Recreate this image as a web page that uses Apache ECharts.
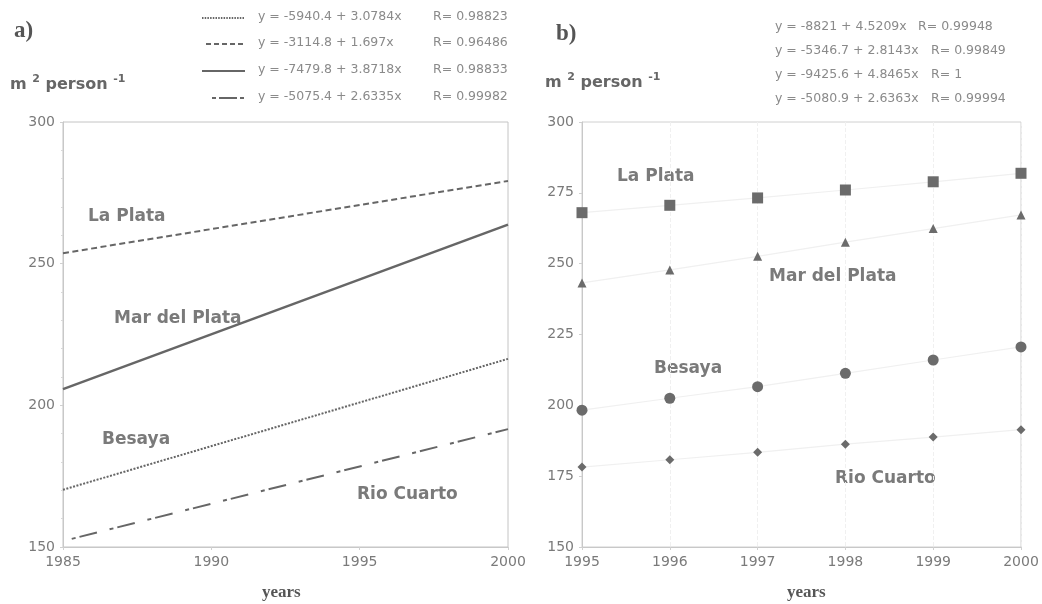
<!DOCTYPE html>
<html>
<head>
<meta charset="utf-8">
<style>
  html, body { margin: 0; padding: 0; background: #fff; }
  #chart { width: 1042px; height: 604px; }
</style>
<script src="https://cdn.jsdelivr.net/npm/echarts@6/dist/echarts.min.js"></script>
</head>
<body>
<div id="chart"></div>
<script>
// ---- Panel a) fitted lines (endpoints 1985 and 2000) ----
const yearsA = [1985, 2000];
const besayaA = [170.2, 216.4];
const laPlataA = [253.7, 279.2];
const marDelPlataA = [205.7, 263.8];
const rioCuartoA = [152.1, 191.6];
const eqA = ['y = -5940.4 + 3.0784x', 'y = -3114.8 + 1.697x', 'y = -7479.8 + 3.8718x', 'y = -5075.4 + 2.6335x'];
const rA = ['R= 0.98823', 'R= 0.96486', 'R= 0.98833', 'R= 0.99982'];

// ---- Panel b) observed values 1995-2000 ----
const yearsB = [1995, 1996, 1997, 1998, 1999, 2000];
const laPlataB = [268.0, 270.6, 273.2, 276.0, 278.9, 281.9];
const marDelPlataB = [243.2, 247.8, 252.6, 257.6, 262.4, 267.2];
const besayaB = [198.3, 202.5, 206.6, 211.3, 216.0, 220.6];
const rioCuartoB = [178.2, 180.8, 183.4, 186.3, 188.8, 191.4];
const eqB = ['y = -8821 + 4.5209x', 'y = -5346.7 + 2.8143x', 'y = -9425.6 + 4.8465x', 'y = -5080.9 + 2.6363x'];
const rB = ['R= 0.99948', 'R= 0.99849', 'R= 1', 'R= 0.99994'];

const ticksA = { min: 150, max: 300, interval: 50 };
const ticksB = { min: 150, max: 300, interval: 25 };

const pair = (xs, ys) => xs.map((x, i) => [x, ys[i]]);

const LINE = '#666666';
const MARK = '#6b6b6b';
const LBL = '#7a7a7a';
const FONT = 'DejaVu Sans';

const chart = echarts.init(document.getElementById('chart'));

function axisCommon() {
  return {
    axisLine: { show: true, lineStyle: { color: '#c8c8c8', width: 1 } },
    axisTick: { show: true, length: 3, lineStyle: { color: '#d0d0d0' } },
    axisLabel: { color: LBL, fontFamily: FONT, fontSize: 14, formatter: v => String(v) },
    splitLine: { show: false }
  };
}

const plotLabel = (x, y, t) => ({
  type: 'text', left: x, top: y,
  style: { text: t, fill: LBL, font: 'bold 17px "DejaVu Sans"' }
});

const unitLabel = (x, y) => ({
  type: 'text', left: x, top: y,
  style: {
    text: '{b|m }{s|2}{b| person }{s|-1}',
    rich: {
      b: { font: 'bold 16px "DejaVu Sans"', fill: '#666', verticalAlign: 'bottom' },
      s: { font: 'bold 11px "DejaVu Sans"', fill: '#666', verticalAlign: 'top', padding: [0, 0, 8, 0] }
    }
  }
});

const legendSample = (x1, x2, y, dash, w) => ({
  type: 'line',
  shape: { x1: x1, y1: y, x2: x2, y2: y },
  style: { stroke: LINE, lineWidth: w, lineDash: dash }
});

const legendText = (x, y, t) => ({
  type: 'text', left: x, top: y - 8,
  style: { text: t, fill: '#8a8a8a', font: '12.5px "DejaVu Sans"' }
});

const legendRowsA = [18, 44, 71, 98];
const legendRowsB = [28, 52, 76, 100];
const rColB = [918, 931, 931, 931];

const graphics = [
  { type: 'text', left: 14, top: 20, style: { text: 'a)', fill: '#555', font: 'bold 23px "Liberation Serif"' } },
  { type: 'text', left: 556, top: 23, style: { text: 'b)', fill: '#555', font: 'bold 23px "Liberation Serif"' } },
  unitLabel(10, 74),
  unitLabel(545, 72),
  { type: 'text', left: 262, top: 584, style: { text: 'years', fill: '#555', font: 'bold 17px "Liberation Serif"' } },
  { type: 'text', left: 787, top: 584, style: { text: 'years', fill: '#555', font: 'bold 17px "Liberation Serif"' } },
  plotLabel(88, 208, 'La Plata'),
  plotLabel(114, 310, 'Mar del Plata'),
  plotLabel(102, 431, 'Besaya'),
  plotLabel(357, 486, 'Rio Cuarto'),
  plotLabel(617, 168, 'La Plata'),
  plotLabel(769, 268, 'Mar del Plata'),
  plotLabel(654, 360, 'Besaya'),
  plotLabel(835, 470, 'Rio Cuarto'),
  legendSample(202, 245, legendRowsA[0], [1.5, 1.2], 1.8),
  legendSample(206, 245, legendRowsA[1], [5, 3], 1.8),
  legendSample(202, 245, legendRowsA[2], null, 2),
  legendSample(212, 245, legendRowsA[3], [4, 3, 18, 3], 1.8)
];
eqA.forEach((t, i) => graphics.push(legendText(258, legendRowsA[i], t)));
rA.forEach((t, i) => graphics.push(legendText(433, legendRowsA[i], t)));
eqB.forEach((t, i) => graphics.push(legendText(775, legendRowsB[i], t)));
rB.forEach((t, i) => graphics.push(legendText(rColB[i], legendRowsB[i], t)));

const lineSeries = (name, data, dash, w) => ({
  name: name, type: 'line', xAxisIndex: 0, yAxisIndex: 0,
  data: pair(yearsA, data), showSymbol: false, symbol: 'none', silent: true,
  lineStyle: { color: LINE, width: w, type: dash }
});

const trendSeries = (data) => ({
  type: 'line', xAxisIndex: 1, yAxisIndex: 1, data: pair(yearsB, data),
  showSymbol: false, symbol: 'none', silent: true, z: 1,
  lineStyle: { color: '#f0f0f0', width: 1.2 }
});

const scatterSeries = (name, data, symbol, size) => ({
  name: name, type: 'scatter', xAxisIndex: 1, yAxisIndex: 1,
  data: pair(yearsB, data), symbol: symbol, symbolSize: size, z: 3,
  itemStyle: { color: MARK, opacity: 1 }
});

chart.setOption({
  animation: false,
  backgroundColor: '#ffffff',
  grid: [
    { left: 63, top: 122, width: 445, height: 425, show: true, borderColor: '#c4c4c4', borderWidth: 1 },
    { left: 582, top: 122, width: 439, height: 425, show: true, borderColor: '#d0d0d0', borderWidth: 1 }
  ],
  xAxis: [
    Object.assign(axisCommon(), { type: 'value', gridIndex: 0, min: 1985, max: 2000, interval: 5 }),
    Object.assign(axisCommon(), {
      type: 'value', gridIndex: 1, min: 1995, max: 2000, interval: 1,
      splitLine: { show: true, lineStyle: { color: '#f0f0f0', type: 'dashed' } }
    })
  ],
  yAxis: [
    Object.assign(axisCommon(), { type: 'value', gridIndex: 0, min: ticksA.min, max: ticksA.max, interval: ticksA.interval,
      minorTick: { show: true, splitNumber: 5, length: 2, lineStyle: { color: '#d8d8d8' } } }),
    Object.assign(axisCommon(), { type: 'value', gridIndex: 1, min: ticksB.min, max: ticksB.max, interval: ticksB.interval })
  ],
  series: [
    lineSeries('Besaya', besayaA, [2, 1.5], 2),
    lineSeries('La Plata', laPlataA, [6, 3.5], 2),
    lineSeries('Mar del Plata', marDelPlataA, 'solid', 2.5),
    lineSeries('Rio Cuarto', rioCuartoA, [0, 9, 4, 4, 18, 4], 2),
    trendSeries(laPlataB),
    trendSeries(marDelPlataB),
    trendSeries(besayaB),
    trendSeries(rioCuartoB),
    scatterSeries('La Plata', laPlataB, 'rect', 11),
    scatterSeries('Mar del Plata', marDelPlataB, 'triangle', 9),
    scatterSeries('Besaya', besayaB, 'circle', 11),
    scatterSeries('Rio Cuarto', rioCuartoB, 'diamond', 9)
  ],
  graphic: graphics
});
</script>
</body>
</html>
